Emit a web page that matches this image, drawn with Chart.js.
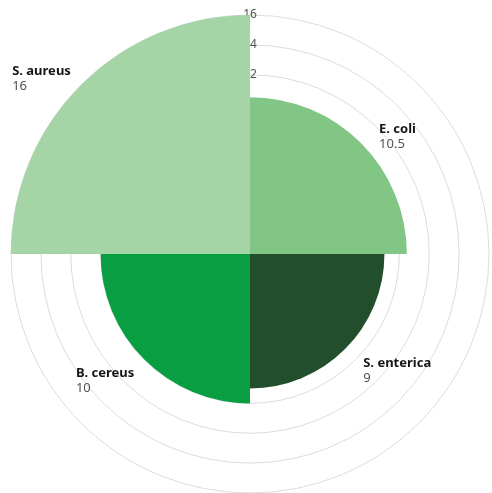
<!DOCTYPE html>
<html>
<head>
<meta charset="utf-8">
<script src="https://cdn.jsdelivr.net/npm/chart.js@4.4.1/dist/chart.umd.min.js"></script>
<style>
    html, body { margin: 0; padding: 0; background: #fff; overflow: hidden; }
    #polarChart { position: absolute; left: 3px; top: 7px; }
</style>
</head>
<body>
<canvas id="polarChart" width="495" height="495"></canvas>
<script>
// Data bakteri (urutan searah jarum jam mulai dari atas)
const labels = ['E. coli', 'S. enterica', 'B. cereus', 'S. aureus'];
const values = [10.5, 9, 10, 16];
const colors = ['#82c685', '#234e2c', '#089e41', '#a5d5a7'];
const rMax = 16;
const rStep = 2;

const fontFamily = '"Noto Sans", "Open Sans", sans-serif';

// Plugin untuk label nama + nilai di luar tiap irisan
const sliceLabels = {
    id: 'sliceLabels',
    afterDatasetsDraw(chart) {
        const ctx = chart.ctx;
        const meta = chart.getDatasetMeta(0);
        meta.data.forEach(function(arc, i) {
            const mid = (arc.startAngle + arc.endAngle) / 2;
            const dist = arc.outerRadius + 20;
            const ax = arc.x + Math.cos(mid) * dist + 4;
            const ay = arc.y + Math.sin(mid) * dist;

            ctx.save();
            ctx.textBaseline = 'middle';
            ctx.textAlign = 'left';
            ctx.font = 'bold 13px ' + fontFamily;
            const nameW = ctx.measureText(labels[i]).width;
            ctx.font = '13px ' + fontFamily;
            const valW = ctx.measureText(String(values[i])).width;
            const blockW = Math.max(nameW, valW);
            const left = Math.cos(mid) < 0 ? ax - blockW : ax;

            ctx.font = 'bold 13px ' + fontFamily;
            ctx.fillStyle = '#161616';
            ctx.fillText(labels[i], left, ay);
            ctx.font = '13px ' + fontFamily;
            ctx.fillStyle = '#525252';
            ctx.fillText(String(values[i]), left, ay + 15);
            ctx.restore();
        });
    }
};

const ctx = document.getElementById('polarChart').getContext('2d');

new Chart(ctx, {
    type: 'polarArea',
    data: {
        labels: labels,
        datasets: [{
            data: values,
            backgroundColor: colors,
            borderWidth: 0
        }]
    },
    options: {
        responsive: false,
        animation: false,
        plugins: {
            legend: { display: false },
            tooltip: { enabled: false }
        },
        scales: {
            r: {
                min: 0,
                max: rMax,
                ticks: {
                    stepSize: rStep,
                    showLabelBackdrop: false,
                    color: '#525252',
                    font: { size: 12, family: fontFamily }
                },
                grid: {
                    color: '#dcdcdc',
                    lineWidth: 1
                }
            }
        }
    },
    plugins: [sliceLabels]
});
</script>
</body>
</html>
